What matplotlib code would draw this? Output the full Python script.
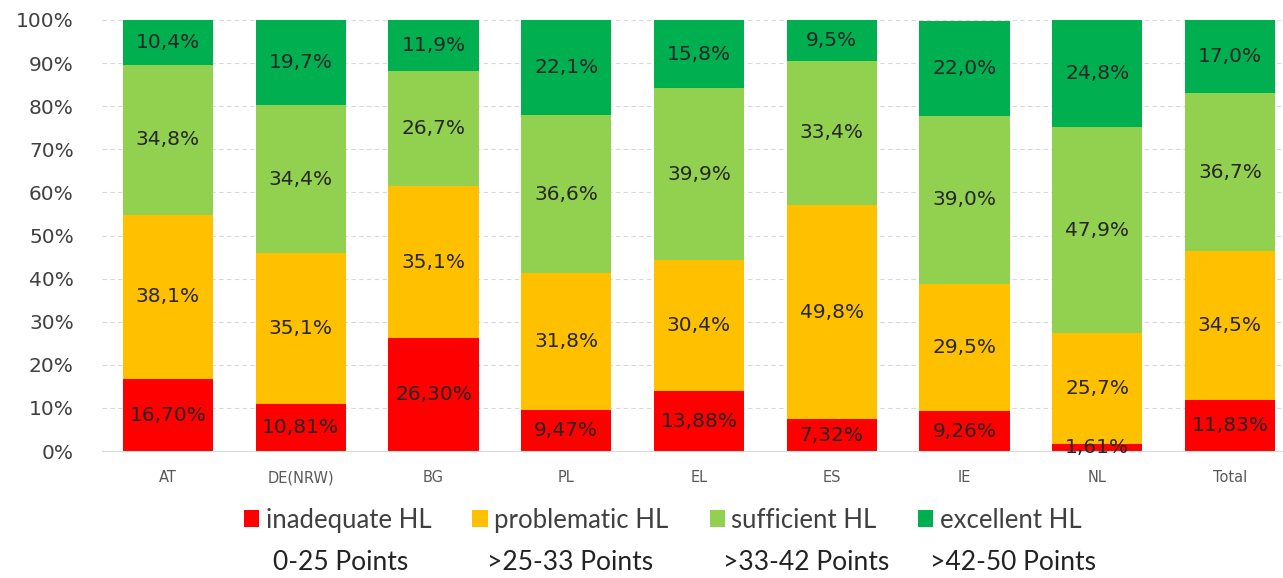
import numpy as np
import matplotlib.pyplot as plt
from matplotlib.patches import Patch
from matplotlib.ticker import MultipleLocator, PercentFormatter

countries = ["AT", "DE(NRW)", "BG", "PL", "EL", "ES", "IE", "NL", "Total"]
inadequate = [16.70, 10.81, 26.30, 9.47, 13.88, 7.32, 9.26, 1.61, 11.83]
problematic = [38.1, 35.1, 35.1, 31.8, 30.4, 49.8, 29.5, 25.7, 34.5]
sufficient = [34.8, 34.4, 26.7, 36.6, 39.9, 33.4, 39.0, 47.9, 36.7]
excellent = [10.4, 19.7, 11.9, 22.1, 15.8, 9.5, 22.0, 24.8, 17.0]

levels = ["inadequate HL", "problematic HL", "sufficient HL", "excellent HL"]
ranges = ["0-25 Points", ">25-33 Points", ">33-42 Points", ">42-50 Points"]
colors = ["#FF0000", "#FFC000", "#92D050", "#00B050"]
decimals = [2, 1, 1, 1]

plt.rcParams['font.family'] = ['DejaVu Sans']

fig = plt.figure(figsize=(12.83, 5.78), dpi=100)
ax = fig.add_axes([0.0792, 0.2197, 0.9208, 0.7457])

x = np.arange(len(countries))
bottom = np.zeros(len(countries))
for series, col, nd in zip([inadequate, problematic, sufficient, excellent], colors, decimals):
    vals = np.array(series)
    ax.bar(x, vals, 0.68, bottom=bottom, color=col, zorder=2)
    for xi, b, v in zip(x, bottom, vals):
        txt = f"{v:.{nd}f}%".replace(".", ",")
        ax.text(xi, b + v / 2, txt, ha="center", va="center",
                fontsize=14.5, color="#262626", zorder=3)
    bottom += vals

ax.set_xlim(-0.5, len(countries) - 0.6)
ax.set_ylim(0, 100)
ax.yaxis.set_major_locator(MultipleLocator(10))
ax.yaxis.set_major_formatter(PercentFormatter(decimals=0))
ax.grid(axis="y", color="#d9d9d9", linestyle=(0, (4, 3)), linewidth=0.8, zorder=0)
ax.set_xticks(x)
ax.set_xticklabels(countries, fontsize=10.5, color="#595959")
ax.tick_params(axis="y", labelsize=14.5, colors="#404040", length=0, pad=20)
ax.tick_params(axis="x", length=0, pad=14)
for s in ["top", "right", "left"]:
    ax.spines[s].set_visible(False)
ax.spines["bottom"].set_color("#d9d9d9")

handles = [Patch(facecolor=c) for c in colors]
fig.legend(handles, levels, loc="center", bbox_to_anchor=(0.5164, 0.1003), ncol=4,
           frameon=False, prop={"family": "Lato", "size": 18.5},
           handlelength=0.6, handleheight=0.6, handletextpad=0.25,
           columnspacing=1.6, labelcolor="#404040")

for xp, r in zip([0.2128, 0.3796, 0.5635, 0.7249], ranges):
    fig.text(xp, 0.026, r, fontsize=19, family="Lato", color="#222222",
             ha="left", va="center")

fig.savefig("out.png", dpi=100)
